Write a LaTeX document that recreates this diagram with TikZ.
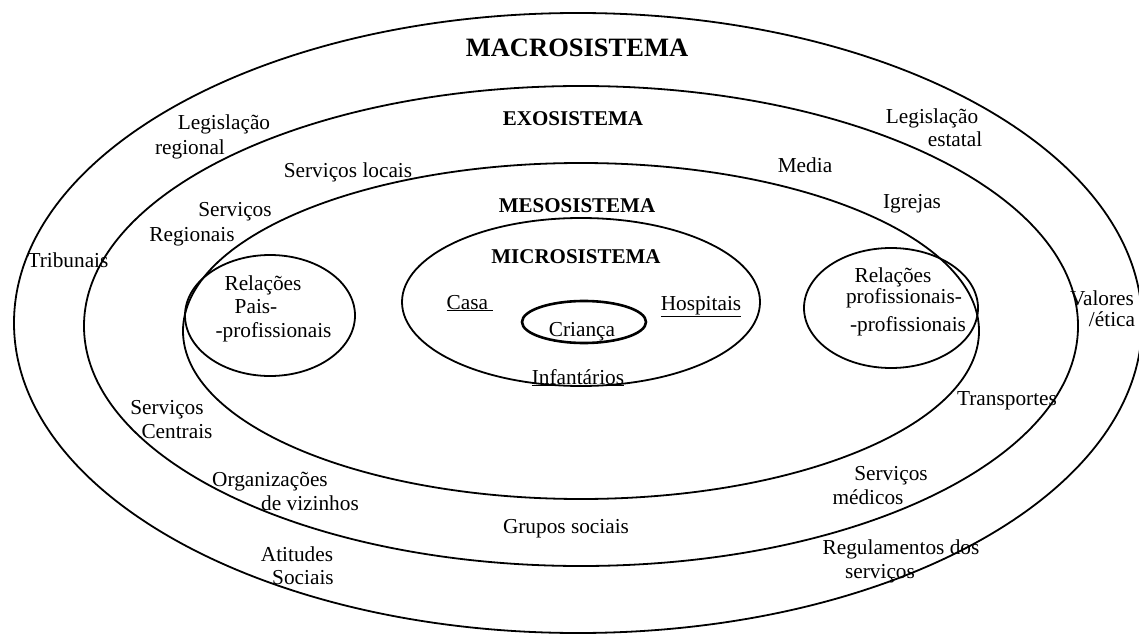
\documentclass[tikz,border=0pt]{standalone}
\usepackage{fontspec}
\setmainfont{Liberation Serif}
\begin{document}
\begin{tikzpicture}[x=1pt,y=-1pt,
  ring/.style={line width=1.8pt},
  lbl/.style={anchor=base,inner sep=0pt,font=\fontsize{21.3}{25}\selectfont},
  ttl/.style={anchor=base,inner sep=0pt,font=\fontsize{21}{25}\selectfont\bfseries},
]
\useasboundingbox (0,0) rectangle (1139,636);

% nested system rings
\draw[ring] (578,323) ellipse [x radius=564pt, y radius=310pt];
\draw[ring] (581,326) ellipse [x radius=497pt, y radius=240pt];
\draw[ring] (581,331) ellipse [x radius=398pt, y radius=168pt];
\draw[ring] (581,302) ellipse [x radius=179pt, y radius=84pt];
\draw[line width=2.6pt] (584,322) ellipse [x radius=62pt, y radius=21pt];
% relation bubbles on the mesosystem
\draw[ring] (270,315.5) ellipse [x radius=85pt, y radius=60.5pt];
\draw[ring] (891,308) ellipse [x radius=87pt, y radius=60pt];

% system titles
\node[ttl,font=\fontsize{26.5}{30}\selectfont\bfseries] (macro) at (577,57) {MACROSISTEMA};
\node[ttl] (exo) at (573,126) {EXOSISTEMA};
\node[ttl] (meso) at (577,213) {MESOSISTEMA};
\node[ttl] (micro) at (576,263) {MICROSISTEMA};

% macrosystem
\node[lbl] (legr1) at (224,130) {Legislação};
\node[lbl] (legr2) at (190,155) {regional};
\node[lbl] (lege1) at (932,124) {Legislação};
\node[lbl] (lege2) at (955,147) {estatal};
\node[lbl] (trib) at (68,267) {Tribunais};
\node[lbl] (val1) at (1102,305) {Valores};
\node[lbl] (val2) at (1112,326) {/ética};
\node[lbl] (ati1) at (297,561) {Atitudes};
\node[lbl] (ati2) at (303,584) {Sociais};
\node[lbl] (reg1) at (901,554) {Regulamentos dos};
\node[lbl] (reg2) at (880,578) {serviços};

% exosystem
\node[lbl] (sloc) at (348,178) {Serviços locais};
\node[lbl] (media) at (805,173) {Media};
\node[lbl] (sreg1) at (235,217) {Serviços};
\node[lbl] (sreg2) at (192,241) {Regionais};
\node[lbl] (igr) at (912,209) {Igrejas};
\node[lbl] (scen1) at (167,414) {Serviços};
\node[lbl] (scen2) at (177,438) {Centrais};
\node[lbl] (transp) at (1007,405) {Transportes};
\node[lbl] (org1) at (270,486) {Organizações};
\node[lbl] (org2) at (310,510) {de vizinhos};
\node[lbl] (grp) at (566,533) {Grupos sociais};
\node[lbl] (smed1) at (891,480) {Serviços};
\node[lbl] (smed2) at (868,504) {médicos};

% mesosystem bubbles
\node[lbl] (rpp1) at (263,290) {Relações};
\node[lbl] (rpp2) at (256,313) {Pais-};
\node[lbl] (rpp3) at (273.5,337) {-profissionais};
\node[lbl] (rpr1) at (893,282) {Relações};
\node[lbl] (rpr2) at (904,303) {profissionais-};
\node[lbl] (rpr3) at (908,331) {-profissionais};

% microsystem
\node[lbl] (casa) at (470,309) {\underline{Casa~}};
\node[lbl] (hosp) at (701,310) {\underline{Hospitais}};
\node[lbl] (crianca) at (582,336) {Criança};
\node[lbl] (infant) at (578,384) {\underline{Infantários}};
\end{tikzpicture}
\end{document}
